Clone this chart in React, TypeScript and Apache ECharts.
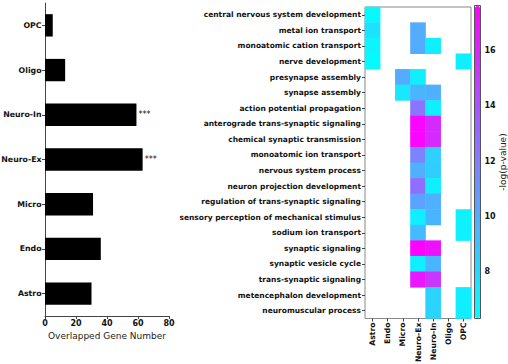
import React, { useEffect, useRef } from "react";
import * as echarts from "echarts";

const barCategories = ["Astro", "Endo", "Micro", "Neuro-Ex", "Neuro-In", "Oligo", "OPC"];
const barValues = [30, 36, 31, 63, 59, 13, 5];
const barSignif = ["", "", "", "***", "***", "", ""];
const barAxisMax = 80;
const barAxisInterval = 20;

const heatTerms = [
  "central nervous system development",
  "metal ion transport",
  "monoatomic cation transport",
  "nerve development",
  "presynapse assembly",
  "synapse assembly",
  "action potential propagation",
  "anterograde trans-synaptic signaling",
  "chemical synaptic transmission",
  "monoatomic ion transport",
  "nervous system process",
  "neuron projection development",
  "regulation of trans-synaptic signaling",
  "sensory perception of mechanical stimulus",
  "sodium ion transport",
  "synaptic signaling",
  "synaptic vesicle cycle",
  "trans-synaptic signaling",
  "metencephalon development",
  "neuromuscular process",
];
const heatCellTypes = ["Astro", "Endo", "Micro", "Neuro-Ex", "Neuro-In", "Oligo", "OPC"];

const _ = null;
const astroVals = [6.5, 7.6, 6.8, 6.5, _, _, _, _, _, _, _, _, _, _, _, _, _, _, _, _];
const endoVals = [_, _, _, _, _, _, _, _, _, _, _, _, _, _, _, _, _, _, _, _];
const microVals = [_, _, _, _, 10.0, 7.4, _, _, _, _, _, _, _, _, _, _, _, _, _, _];
const neuroExVals = [_, 10.0, 10.0, _, 7.0, 9.6, 12.4, 17.4, 17.4, 11.8, 9.8, 12.7, 10.4, 7.0, 9.3, 17.6, 7.0, 16.6, _, _];
const neuroInVals = [_, _, 7.0, _, _, 9.8, 7.0, 15.8, 15.8, 8.4, 8.5, 7.0, 9.8, 9.6, _, 16.9, 9.6, 15.3, 8.2, 8.2];
const oligoVals = [_, _, _, _, _, _, _, _, _, _, _, _, _, _, _, _, _, _, _, _];
const opcVals = [_, _, _, 7.0, _, _, _, _, _, _, _, _, _, 6.9, 6.9, _, _, _, 7.0, 7.0];
const heatColumns = [astroVals, endoVals, microVals, neuroExVals, neuroInVals, oligoVals, opcVals];

const colorMin = 6.29;
const colorMax = 17.64;
const colorTicks = [8, 10, 12, 14, 16];

const FONT = "DejaVu Sans";
const INK = "#111";

export default function App() {
  const ref = useRef<HTMLDivElement>(null);
  useEffect(() => {
    if (!ref.current) return;
    const chart = echarts.init(ref.current, undefined, { renderer: "svg" });
    const heatData: any[] = [];
    heatColumns.forEach((col, c) => {
      col.forEach((v, r) => {
        if (v !== null) heatData.push([c, r, v]);
      });
    });
    chart.setOption({
      animation: false,
      textStyle: { fontFamily: FONT },
      grid: [
        { left: 45, top: 3, width: 124, bottom: 48, containLabel: false, outerBoundsMode: "none" },
        { left: 365, top: 7, right: 37, bottom: 45.5, show: true, borderColor: "#888", borderWidth: 1, backgroundColor: "transparent", outerBoundsMode: "none" },
        { left: 474.5, top: 5.5, width: 6, height: 313, show: true, borderColor: "#555", borderWidth: 1, backgroundColor: "transparent", outerBoundsMode: "none" },
      ],
      xAxis: [
        {
          gridIndex: 0,
          type: "value",
          min: 0,
          max: barAxisMax,
          interval: barAxisInterval,
          splitLine: { show: false },
          axisLine: { show: true, lineStyle: { color: "#444", width: 1 } },
          axisTick: { show: true, inside: false, length: 3, lineStyle: { color: "#444" } },
          axisLabel: { color: INK, fontWeight: "bold", fontSize: 8, margin: 3, fontFamily: FONT },
          name: "Overlapped Gene Number",
          nameLocation: "middle",
          nameGap: 13,
          nameTextStyle: { color: "#222", fontSize: 9, fontFamily: FONT },
        },
        {
          gridIndex: 1,
          type: "category",
          data: heatCellTypes,
          position: "bottom",
          axisLine: { show: false },
          axisTick: { show: true, alignWithLabel: true, length: 3, lineStyle: { color: "#444" } },
          axisLabel: { color: INK, fontWeight: "bold", fontSize: 7.7, rotate: 90, margin: 4, fontFamily: FONT, interval: 0 },
          splitLine: { show: false },
        },
        {
          gridIndex: 2,
          type: "value",
          show: false,
          min: 0,
          max: 1,
        },
      ],
      yAxis: [
        {
          gridIndex: 0,
          type: "category",
          data: barCategories,
          axisLine: { show: true, lineStyle: { color: "#444", width: 1 } },
          axisTick: { show: true, alignWithLabel: true, length: 3, lineStyle: { color: "#444" } },
          axisLabel: { color: INK, fontWeight: "bold", fontSize: 7.8, margin: 3.5, fontFamily: FONT },
        },
        {
          gridIndex: 1,
          type: "category",
          data: heatTerms,
          inverse: true,
          axisLine: { show: false },
          axisTick: { show: true, alignWithLabel: true, length: 3, lineStyle: { color: "#444" } },
          axisLabel: { color: INK, fontWeight: "bold", fontSize: 7.5, margin: 4, fontFamily: FONT, interval: 0 },
          splitLine: { show: false },
        },
        {
          gridIndex: 2,
          type: "value",
          position: "right",
          min: colorMin,
          max: colorMax,
          axisLine: { show: false },
          splitLine: { show: false },
          axisTick: { show: true, length: 3, customValues: colorTicks, lineStyle: { color: "#444" } },
          axisLabel: { show: true, customValues: colorTicks, color: INK, fontWeight: "bold", fontSize: 8, margin: 4, fontFamily: FONT },
        },
      ],
      visualMap: {
        type: "continuous",
        min: colorMin,
        max: colorMax,
        seriesIndex: 1,
        calculable: false,
        orient: "vertical",
        left: 475,
        top: 6,
        itemWidth: 5,
        itemHeight: 312,
        padding: 0,
        text: ["", ""],
        showLabel: false,
        inRange: { color: ["#00ffff", "#ff00ff"] },
      },
      series: [
        {
          type: "bar",
          xAxisIndex: 0,
          yAxisIndex: 0,
          data: barValues,
          barWidth: "50%",
          itemStyle: { color: "#000" },
          label: {
            show: true,
            position: "right",
            distance: 2,
            color: INK,
            fontSize: 8,
            fontFamily: FONT,
            formatter: (p: any) => barSignif[p.dataIndex],
          },
        },
        {
          type: "heatmap",
          xAxisIndex: 1,
          yAxisIndex: 1,
          data: heatData,
        },
      ],
      graphic: [
        {
          type: "text",
          x: 503,
          y: 162,
          rotation: Math.PI / 2,
          style: {
            text: "-log(p-value)",
            fontSize: 9,
            fontFamily: FONT,
            fill: "#222",
            align: "center",
            verticalAlign: "middle",
          },
        },
      ],
    });
    return () => chart.dispose();
  }, []);
  return <div ref={ref} style={{ width: 508, height: 364, position: "absolute", left: 0, top: 0 }} />;
}
